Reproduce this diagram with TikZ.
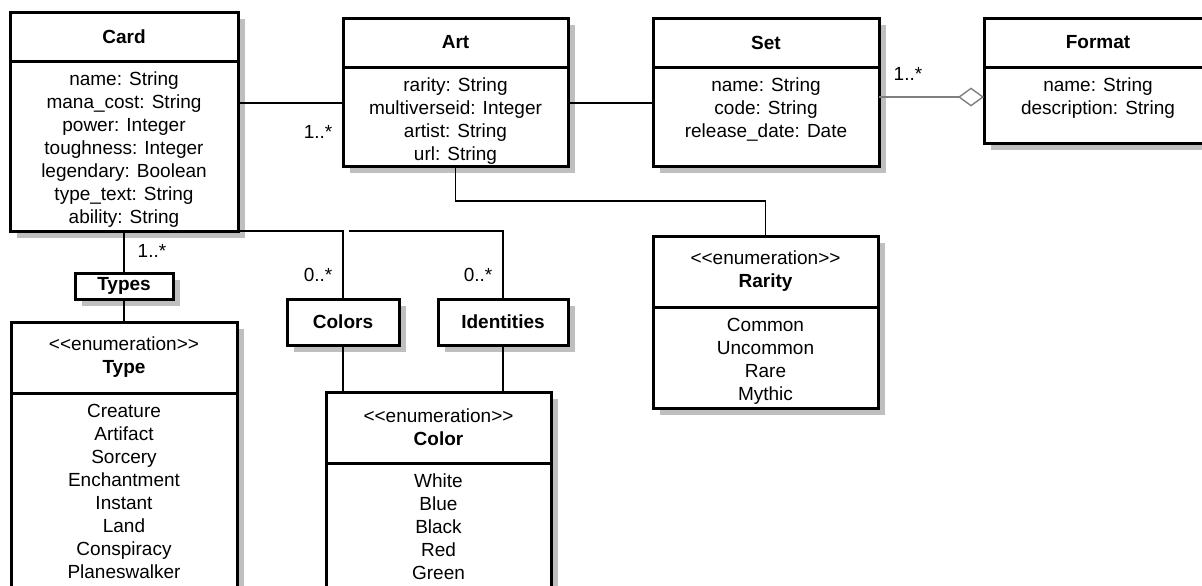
\documentclass[tikz,border=0pt]{standalone}
\usepackage{fontspec}
\setmainfont{Liberation Sans}
\usetikzlibrary{positioning,shadows,arrows.meta}

\newcommand{\umlfont}{\fontsize{9.5}{11.5}\selectfont}
% attribute list: fixed top gap, bottom gap as option
\newcommand{\attrlist}[2][3.6pt]{\rule{0pt}{12.4pt}#2\rule[-#1]{0pt}{#1}}

\tikzset{
  umlbox/.style={draw, line width=1.5pt, fill=white, outer sep=0pt, inner sep=0pt,
    align=center, anchor=north west, font=\umlfont,
    drop shadow={shadow xshift=3.5pt, shadow yshift=-3.5pt}},
  classhead/.style={umlbox, font=\umlfont\bfseries, minimum height=24.5pt},
  enumhead/.style={umlbox, minimum height=35.5pt},
  classbody/.style={umlbox},
  assoc/.style={line width=0.7pt},
  aggr/.style={line width=0.7pt, draw=black!50, -{Diamond[open, length=13pt, width=9.5pt]}},
  mult/.style={inner sep=0pt, font=\umlfont},
}

\begin{document}
\begin{tikzpicture}[x=0.5pt, y=-0.5pt]
  \useasboundingbox (0,0) rectangle (1202,585);

  % classes
  \node[classhead, minimum width=114pt] (card) at (10,12) {Card};
  \node[classbody, minimum width=114pt, below=0pt of card] (cardattr)
    {\attrlist{name: String\\mana\_cost: String\\power: Integer\\toughness: Integer\\legendary: Boolean\\type\_text: String\\ability: String}};

  \node[classhead, minimum width=112.5pt] (art) at (343,18) {Art};
  \node[classbody, minimum width=112.5pt, below=0pt of art] (artattr)
    {\attrlist[2.6pt]{rarity: String\\multiverseid: Integer\\artist: String\\url: String}};

  \node[classhead, minimum width=113pt] (set) at (653,18) {Set};
  \node[classbody, minimum width=113pt, below=0pt of set] (setattr)
    {\attrlist[14.1pt]{name: String\\code: String\\release\_date: Date}};

  \node[classhead, minimum width=114pt] (format) at (984,18) {Format};
  \node[classbody, minimum width=114pt, below=0pt of format] (formatattr)
    {\attrlist[14.1pt]{name: String\\description: String}};

  % enumerations
  \node[enumhead, minimum width=112.5pt] (rarity) at (653,236) {<{}<enumeration>{}>\\\textbf{Rarity}};
  \node[classbody, minimum width=112.5pt, below=0pt of rarity] (rarityvals)
    {\attrlist{Common\\Uncommon\\Rare\\Mythic}};

  \node[enumhead, minimum width=113pt] (type) at (11,322) {<{}<enumeration>{}>\\\textbf{Type}};
  \node[classbody, minimum width=113pt, below=0pt of type] (typevals)
    {\attrlist[5pt]{Creature\\Artifact\\Sorcery\\Enchantment\\Instant\\Land\\Conspiracy\\Planeswalker}};

  \node[enumhead, minimum width=112.5pt] (color) at (326,392) {<{}<enumeration>{}>\\\textbf{Color}};
  \node[classbody, minimum width=112.5pt, below=0pt of color] (colorvals)
    {\attrlist[5pt]{White\\Blue\\Black\\Red\\Green}};

  % association boxes
  \node[classhead, minimum width=49pt, minimum height=13pt] (types) at (75,273) {Types};
  \node[classhead, minimum width=56pt, minimum height=23pt] (colors) at (287,299) {Colors};
  \node[classhead, minimum width=65pt, minimum height=23pt] (identities) at (438,299) {Identities};

  % links
  \draw[assoc] ([yshift=-18pt]artattr.north west) -- ([yshift=-18pt]artattr.north west -| cardattr.east)
    node[mult, pos=0, anchor=north east, xshift=-5pt, yshift=-11pt] (artmult) {1..*};
  \draw[assoc] ([yshift=-18pt]artattr.north east) -- ([yshift=-18pt]artattr.north east -| setattr.west);
  \draw[aggr] ([yshift=-15pt]setattr.north east) -- ([yshift=-15pt]setattr.north east -| formatattr.west)
    node[mult, pos=0, anchor=south west, xshift=7pt, yshift=8pt] (setmult) {1..*};
  \draw[assoc] (artattr.south) -- ++(0,35) -| (rarity.north);

  \draw[assoc] (cardattr.south) -- (types.north)
    node[mult, pos=0, anchor=north west, xshift=6.5pt, yshift=-6.5pt] (typesmult) {1..*};
  \draw[assoc] (types.south) -- (type.north);
  \draw[assoc] (cardattr.south east) -| (colors.north)
    node[mult, pos=1, anchor=south east, xshift=-5pt, yshift=8.5pt] (colorsmult) {0..*};
  \draw[assoc] ([xshift=55.5pt]cardattr.south east) -| (identities.north)
    node[mult, pos=1, anchor=south east, xshift=-5pt, yshift=8.5pt] (identmult) {0..*};
  \draw[assoc] (colors.south) -- (colors.south |- color.north);
  \draw[assoc] (identities.south) -- (identities.south |- color.north);
\end{tikzpicture}
\end{document}
